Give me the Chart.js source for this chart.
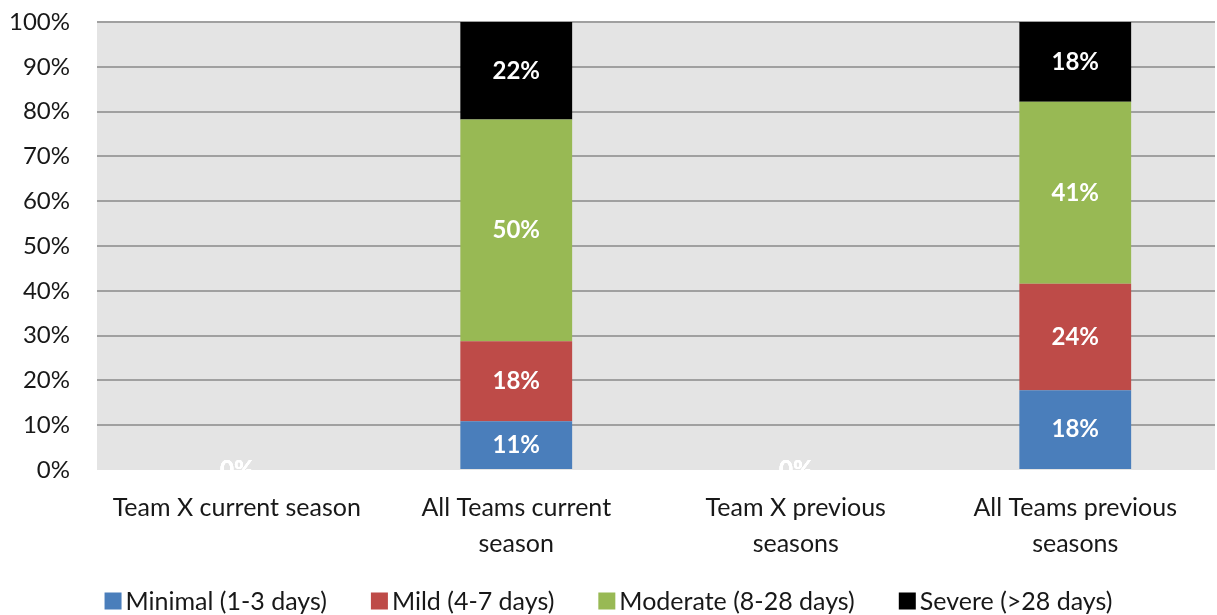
<!DOCTYPE html>
<html>
<head>
<meta charset="utf-8">
<script src="https://cdn.jsdelivr.net/npm/chart.js@4/dist/chart.umd.min.js"></script>
<style>
  html, body { margin: 0; padding: 0; background: #fff; }
  #wrap { width: 1217px; height: 615px; }
</style>
</head>
<body>
<div id="wrap"><canvas id="chart" width="1217" height="615"></canvas></div>
<script>
/**
 * Chart Data.
 */
const categories = [
  ['Team X current season'],
  ['All Teams current', 'season'],
  ['Team X previous', 'seasons'],
  ['All Teams previous', 'seasons'],
];
const minimal = [0, 11, 0, 18];
const mild = [0, 18, 0, 24];
const moderate = [0, 50, 0, 41];
const severe = [0, 22, 0, 18];
const seriesNames = ['Minimal (1-3 days)', 'Mild (4-7 days)', 'Moderate (8-28 days)', 'Severe (>28 days)'];
const seriesColors = ['#4a7ebb', '#be4b48', '#98b954', '#000000'];
const yTicks = [0, 10, 20, 30, 40, 50, 60, 70, 80, 90, 100];

const FONT = "Lato, sans-serif";
const TEXT = '#181818';
const series = [minimal, mild, moderate, severe];

/**
 * Column totals, used to draw every column as a 100% stack.
 */
const totals = categories.map((c, j) => series.reduce((sum, s) => sum + s[j], 0));
const toShare = (values) => values.map((v, j) => (totals[j] ? (v / totals[j]) * 100 : 0));

/**
 * Grey plot background.
 */
const plotBackground = {
  id: 'plotBackground',
  beforeDraw(chart) {
    const { ctx, chartArea: a } = chart;
    ctx.save();
    ctx.fillStyle = '#e4e4e4';
    ctx.fillRect(a.left, a.top, a.right - a.left, a.bottom - a.top);
    ctx.restore();
  },
};

/**
 * White value labels in the middle of each segment.
 */
const segmentLabels = {
  id: 'segmentLabels',
  afterDatasetsDraw(chart) {
    const { ctx } = chart;
    ctx.save();
    ctx.font = `bold 24px ${FONT}`;
    ctx.fillStyle = '#ffffff';
    ctx.textAlign = 'center';
    ctx.textBaseline = 'middle';
    chart.data.datasets.forEach((ds, i) => {
      chart.getDatasetMeta(i).data.forEach((bar, j) => {
        const { x, y, base } = bar.getProps(['x', 'y', 'base'], true);
        ctx.fillText(`${series[i][j]}%`, x, (y + base) / 2);
      });
    });
    ctx.restore();
  },
};

/**
 * Legend row under the axis: small square, tight gap, then the name.
 */
const legendRow = {
  id: 'legendRow',
  afterDraw(chart) {
    const { ctx } = chart;
    const box = 17;
    const gap = 4;
    const spacing = 44;
    const y = 601;
    ctx.save();
    ctx.font = `25px ${FONT}`;
    ctx.textBaseline = 'middle';
    const items = chart.data.datasets.map((ds) => ({
      text: ds.label,
      color: ds.backgroundColor,
      width: box + gap + ctx.measureText(ds.label).width,
    }));
    const total = items.reduce((sum, it) => sum + it.width, 0) + spacing * (items.length - 1);
    let x = (chart.width - total) / 2;
    items.forEach((it) => {
      ctx.fillStyle = it.color;
      ctx.fillRect(x, y - box / 2, box, box);
      ctx.fillStyle = TEXT;
      ctx.fillText(it.text, x + box + gap, y + 1);
      x += it.width + spacing;
    });
    ctx.restore();
  },
};

new Chart(document.getElementById('chart'), {
  type: 'bar',
  data: {
    labels: categories,
    datasets: series.map((values, i) => ({
      label: seriesNames[i],
      data: toShare(values),
      backgroundColor: seriesColors[i],
      borderWidth: 0,
    })),
  },
  options: {
    responsive: false,
    animation: false,
    events: [],
    layout: { padding: { top: 22, right: 2, left: 0, bottom: 55 } },
    datasets: { bar: { categoryPercentage: 1, barPercentage: 0.4 } },
    plugins: {
      tooltip: { enabled: false },
      legend: { display: false },
    },
    scales: {
      x: {
        stacked: true,
        grid: { display: false, drawTicks: false },
        border: { display: false },
        ticks: {
          font: { family: FONT, size: 25, lineHeight: 1.45 },
          color: TEXT,
          padding: 20,
          maxRotation: 0,
        },
        afterFit(scale) { scale.height = 90; },
      },
      y: {
        stacked: true,
        min: 0,
        max: 100,
        afterBuildTicks(scale) { scale.ticks = yTicks.map((v) => ({ value: v })); },
        grid: {
          color: (c) => (c.tick && c.tick.value === 0 ? 'rgba(0,0,0,0)' : '#a0a0a0'),
          lineWidth: 2,
          drawTicks: false,
        },
        border: { display: false },
        ticks: {
          font: { family: FONT, size: 24 },
          color: TEXT,
          padding: 27,
          callback: (v) => `${v}%`,
        },
        afterFit(scale) {
          scale.width = 97;
          scale.paddingTop = 0;
          scale.paddingBottom = 0;
        },
      },
    },
  },
  plugins: [plotBackground, segmentLabels, legendRow],
});
</script>
</body>
</html>
